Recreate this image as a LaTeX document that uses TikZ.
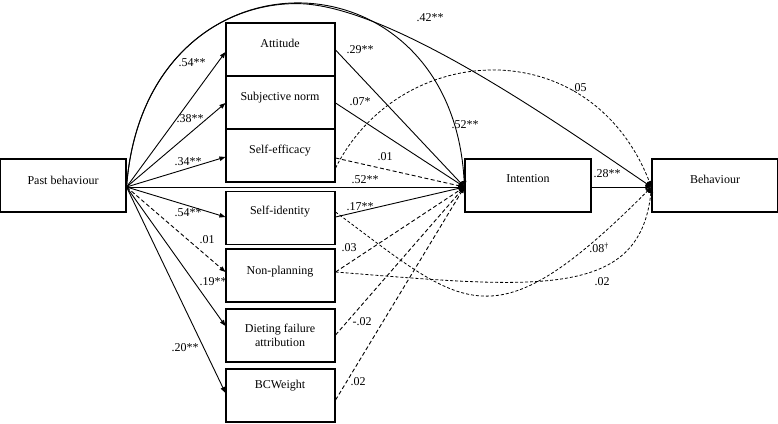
\documentclass[tikz,border=0pt]{standalone}
\usepackage{fontspec}
\setmainfont{Liberation Serif}
\usetikzlibrary{arrows.meta,calc}
\begin{document}
\begin{tikzpicture}[x=1pt,y=-1pt,
 box/.style={draw, line width=1.1pt, inner sep=0pt, minimum width=109pt, minimum height=53pt},
 txt/.style={font=\fontsize{12}{14}\selectfont, inner sep=0pt, align=center},
 lab/.style={font=\fontsize{12}{14}\selectfont, inner sep=0pt},
 arr/.style={line width=0.9pt, -{Triangle[length=6pt,width=4.5pt]}},
 darr/.style={arr, dash pattern=on 4pt off 2.5pt},
 farr/.style={arr, line width=0.8pt, dash pattern=on 3pt off 2pt}]
\useasboundingbox (0,0) rectangle (778,423);
% boxes
\node[box, minimum width=125.3pt] (pb) at (63.35,185.5) {};
\node[box] (att) at (280.5,49.5) {};
\node[box] (sn) at (280.5,102.5) {};
\node[box] (se) at (280.5,155.5) {};
\node[box] (si) at (280.5,218) {};
\node[box] (np) at (280.5,275.5) {};
\node[box] (df) at (280.5,335.5) {};
\node[box] (bc) at (280.5,395.5) {};
\node[box, minimum width=126pt] (int) at (528,185.5) {};
\node[box, minimum width=125.3pt] (beh) at (714.65,185.5) {};
% box texts
\node[txt] (pbt) at (63,180) {Past behaviour};
\node[txt] (attt) at (280,43) {Attitude};
\node[txt] (snt) at (280,98) {Subjective norm};
\node[txt] (set) at (280,150.5) {Self-efficacy};
\node[txt] (sit) at (280,211.5) {Self-identity};
\node[txt] (npt) at (280,271.5) {Non-planning};
\node[txt] (dft) at (280,335.5) {Dieting failure\\attribution};
\node[txt] (bct) at (280,385.5) {BCWeight};
\node[txt] (intt) at (528,179) {Intention};
\node[txt] (beht) at (715,179) {Behaviour};
% connection points
\coordinate (pbo) at ($(pb.east)+(0,1.5)$);
\coordinate (intin) at ($(int.west)+(0,1.5)$);
\coordinate (intout) at ($(int.east)+(0,1.5)$);
\coordinate (behin) at ($(beh.west)+(0,1.5)$);
\coordinate (attin) at ($(att.west)+(0,2.5)$);
\coordinate (snin) at ($(sn.west)+(0,0.5)$);
\coordinate (sein) at ($(se.west)+(0,1.5)$);
\coordinate (siin) at ($(si.west)+(0,-1)$);
\coordinate (npin) at ($(np.west)+(0,-3.5)$);
\coordinate (dfin) at ($(df.west)+(0,-9.5)$);
\coordinate (bcin) at ($(bc.west)+(0,-2.5)$);
\coordinate (attout) at ($(att.east)+(0,0.5)$);
\coordinate (snout) at ($(sn.east)+(0,0.5)$);
\coordinate (seouta) at ($(se.east)+(0,2.5)$);
\coordinate (seoutb) at ($(se.east)+(0,12.5)$);
\coordinate (siouta) at ($(si.east)+(0,-1)$);
\coordinate (sioutb) at ($(si.east)+(0,-6)$);
\coordinate (npout) at ($(np.east)+(0,-3.5)$);
\coordinate (dfout) at ($(df.east)+(0,-0.5)$);
\coordinate (bcout) at ($(bc.east)+(0,4.5)$);
\coordinate (top) at (297.75,3.6);
% past behaviour to predictors
\draw[arr] (pbo) -- (attin);
\draw[arr] (pbo) -- (snin);
\draw[arr] (pbo) -- (sein);
\draw[arr] (pbo) -- (siin);
\draw[darr] (pbo) -- (npin);
\draw[arr] (pbo) -- (dfin);
\draw[arr] (pbo) -- (bcin);
\draw[arr] (pbo) -- (intin);
\draw[arr] (pbo) .. controls (145,-60) and (452,-55) .. (intin);
\draw[arr] (pbo) .. controls (135.5,63.5) and (217,3) .. (top)
  .. controls (390,4.7) and (560,125) .. (behin);
% predictors to intention
\draw[arr] (attout) -- (intin);
\draw[arr] (snout) -- (intin);
\draw[darr] (seouta) -- (intin);
\draw[arr] (siouta) -- (intin);
\draw[darr] (npout) -- (intin);
\draw[darr] (dfout) -- (intin);
\draw[darr] (bcout) -- (intin);
\draw[arr] (intout) -- (behin);
% predictors to behaviour
\draw[farr] (seoutb) .. controls (400,40) and (590,30) .. (behin);
\draw[farr] (sioutb) .. controls (465,308) and (492,347) .. (behin);
\draw[farr] (npout) .. controls (535,288) and (640,300) .. (behin);
% labels
\node[lab] (l1) at (192,63) {.54**};
\node[lab] (l2) at (190,119) {.38**};
\node[lab] (l3) at (188,162) {.34**};
\node[lab] (l4) at (188,213) {.54**};
\node[lab] (l5) at (207,240) {.01};
\node[lab] (l6) at (213,282) {.19**};
\node[lab] (l7) at (185,348) {.20**};
\node[lab] (l8) at (360,50) {.29**};
\node[lab] (l9) at (360,102) {.07*};
\node[lab] (l10) at (385,157) {.01};
\node[lab] (l11) at (365,180) {.52**};
\node[lab] (l12) at (465,125) {.52**};
\node[lab] (l13) at (430,18) {.42**};
\node[lab] (l14) at (579,88) {.05};
\node[lab] (l15) at (360,207) {.17**};
\node[lab] (l16) at (349,248) {.03};
\node[lab] (l17) at (362,322) {-.02};
\node[lab] (l18) at (358,382) {.02};
\node[lab] (l19) at (607,174) {.28**};
\node[lab] (l20) at (599,248) {.08\textsuperscript{†}};
\node[lab] (l21) at (602,282) {.02};
\end{tikzpicture}
\end{document}
